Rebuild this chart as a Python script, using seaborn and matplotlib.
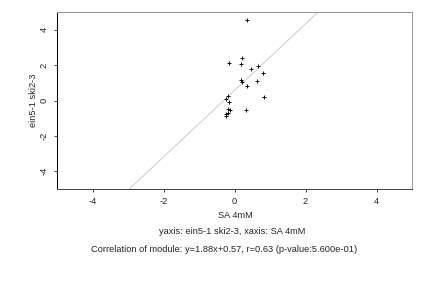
import matplotlib
matplotlib.use("Agg")
import matplotlib.pyplot as plt
import seaborn as sns
import pandas as pd

x_vals = [0.34, 0.20, -0.16, 0.18, 0.46, 0.66, 0.80, 0.17, 0.22, 0.62, 0.34, 0.83,
          -0.19, -0.24, -0.16, 0.32, -0.18, -0.14, -0.17, -0.23, -0.24]
y_vals = [4.55, 2.39, 2.10, 2.05, 1.76, 1.93, 1.53, 1.14, 1.02, 1.10, 0.80, 0.17,
          0.28, 0.06, -0.11, -0.51, -0.49, -0.53, -0.68, -0.76, -0.87]
slope = 1.88
intercept = 0.57
ticks = [-4, -2, 0, 2, 4]
x_label = "SA 4mM"
y_label = "ein5-1 ski2-3"
sub1 = "yaxis: ein5-1 ski2-3, xaxis: SA 4mM"
sub2 = "Correlation of module: y=1.88x+0.57, r=0.63 (p-value:5.600e-01)"

sns.set_style("white")
plt.rcParams['font.family'] = ['Liberation Sans', 'DejaVu Sans']
plt.rcParams['axes.unicode_minus'] = False

FS = 9.3
df = pd.DataFrame({"x": x_vals, "y": y_vals})
fig = plt.figure(figsize=(6, 4), dpi=72)
ax = fig.add_axes([57/432, 1-189/288, (412-57)/432, (189-12)/288])

ax.axline((0, intercept), slope=slope, color="#c8c8c8", lw=0.9, zorder=1)
sns.scatterplot(data=df, x="x", y="y", marker="+", color="black", s=24,
                linewidth=0.9, ax=ax, zorder=3)

ax.set_xlim(-5, 5)
ax.set_ylim(-5, 5)
ax.set_xticks(ticks)
ax.set_yticks(ticks)
ax.set_xticklabels([str(t) for t in ticks], fontsize=FS)
ax.set_yticklabels([str(t) for t in ticks], fontsize=FS, rotation=90, va="center")
ax.tick_params(axis="both", direction="out", length=3, width=0.7, color="black",
               bottom=True, left=True, pad=5)
for s in ["top", "right"]:
    ax.spines[s].set_color("#999999")
    ax.spines[s].set_linewidth(1.0)
ax.spines["left"].set_color("black")
ax.spines["left"].set_linewidth(1.0)
ax.spines["bottom"].set_color("#444444")
ax.spines["bottom"].set_linewidth(1.0)

ax.set_xlabel("")
ax.set_ylabel("")
fig.text(235/432, 1-215/288, x_label, ha="center", va="center", fontsize=FS)
fig.text(33/432, 1-100/288, y_label, ha="center", va="center", fontsize=FS, rotation=90)
fig.text(232.5/432, 1-232/288, sub1, ha="center", va="center", fontsize=FS)
fig.text(224.5/432, 1-250/288, sub2, ha="center", va="center", fontsize=FS)

fig.savefig("out.png", dpi=72)
